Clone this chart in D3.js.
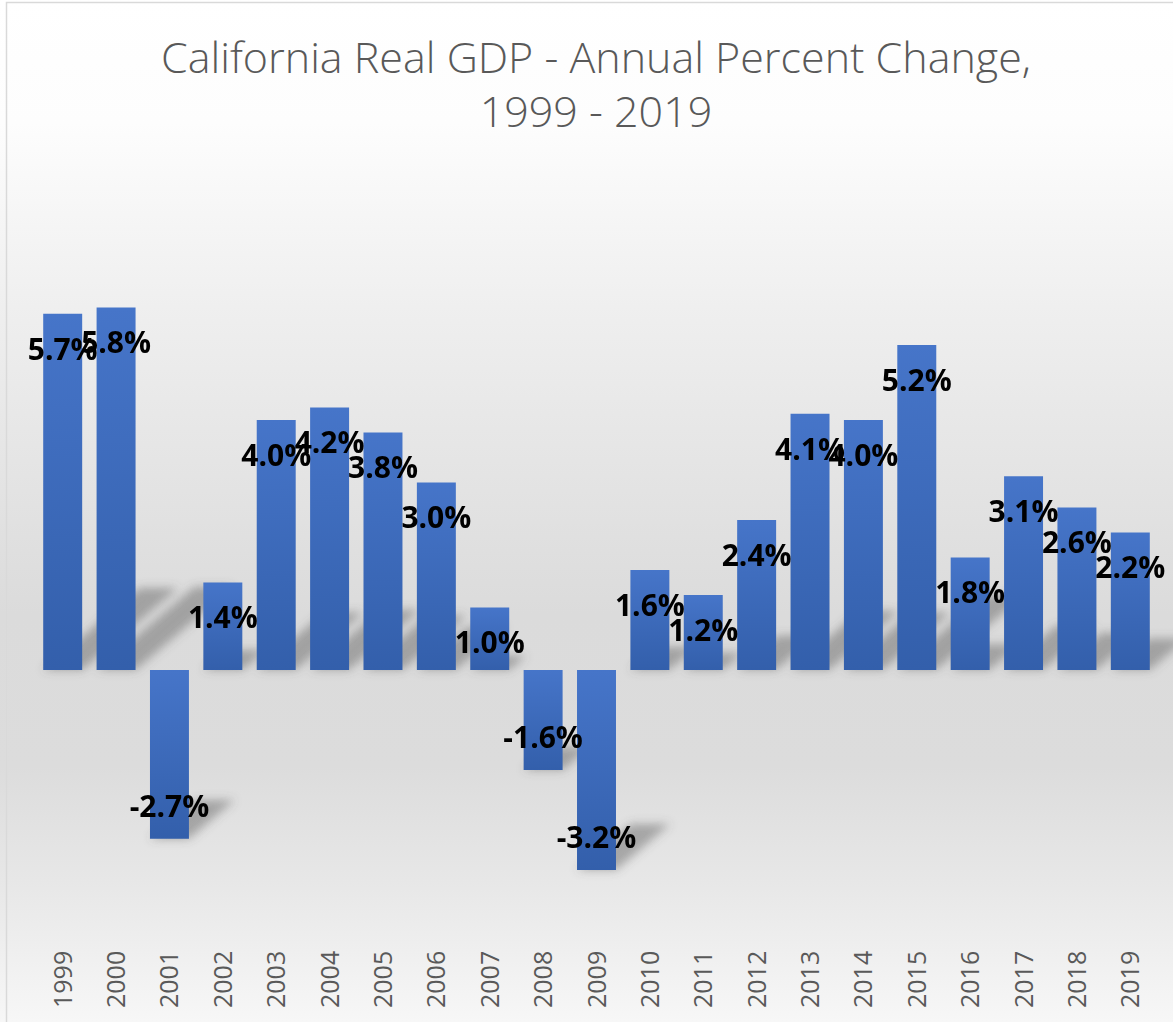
<!DOCTYPE html>
<html>
<head>
<meta charset="utf-8">
<script src="https://cdn.jsdelivr.net/npm/d3@7"></script>
<style>
  html, body { margin: 0; padding: 0; background: #fff; }
  svg { display: block; }
</style>
</head>
<body>
<svg width="1173" height="1022"></svg>
<script>
//## DATA ##
const years = ['1999', '2000', '2001', '2002', '2003', '2004', '2005', '2006', '2007', '2008', '2009',
  '2010', '2011', '2012', '2013', '2014', '2015', '2016', '2017', '2018', '2019']
const growth = [5.7, 5.8, -2.7, 1.4, 4.0, 4.2, 3.8, 3.0, 1.0, -1.6, -3.2,
  1.6, 1.2, 2.4, 4.1, 4.0, 5.2, 1.8, 3.1, 2.6, 2.2]
const titleLines = ['California Real GDP - Annual Percent Change,', '1999 - 2019']

const data = years.map((year, i) => ({ year: year, value: growth[i] }))

//## SIZES ##
const width = 1173
const height = 1022
const svg = d3.select('svg')

//-- Scales --
const scaleX = d3.scaleBand()
  .domain(years)
  .range([36, 1157])
  .paddingInner(0.27)
  .paddingOuter(0.135)

const scaleY = d3.scaleLinear()
  .domain([-4, 6])
  .range([920, 295])

//## DEFS ##
const defs = svg.append('defs')

const bg = defs.append('linearGradient')
  .attr('id', 'bgGrad')
  .attr('x1', 0).attr('y1', 0).attr('x2', 0).attr('y2', 1)
const bgStops = [[0, '#ffffff'], [0.12, '#fdfdfd'], [0.3, '#efefef'], [0.6, '#dbdbdb'],
  [0.75, '#dcdcdc'], [0.87, '#e8e8e8'], [1, '#f7f7f7']]
bg.selectAll('stop').data(bgStops)
  .enter().append('stop')
  .attr('offset', d => d[0])
  .attr('stop-color', d => d[1])

const barGrad = defs.append('linearGradient')
  .attr('id', 'barGrad')
  .attr('x1', 0).attr('y1', 0).attr('x2', 0).attr('y2', 1)
barGrad.append('stop').attr('offset', 0).attr('stop-color', '#4675c9')
barGrad.append('stop').attr('offset', 1).attr('stop-color', '#335fab')

defs.append('filter')
  .attr('id', 'blur')
  .attr('x', '-50%').attr('y', '-50%').attr('width', '200%').attr('height', '200%')
  .append('feGaussianBlur')
  .attr('stdDeviation', 5)

//## BACKGROUND ##
svg.append('rect')
  .attr('width', width)
  .attr('height', height)
  .attr('fill', 'url(#bgGrad)')

svg.append('rect')
  .attr('x', 6.5)
  .attr('y', 2.5)
  .attr('width', width + 20)
  .attr('height', height + 20)
  .attr('fill', 'none')
  .attr('stroke', '#d9d9d9')
  .attr('stroke-width', 1.5)

//## TITLE ##
svg.append('g').selectAll('text').data(titleLines)
  .enter().append('text')
  .attr('x', 596)
  .attr('y', (d, i) => 73 + i * 54)
  .attr('text-anchor', 'middle')
  .style('font-family', '"Open Sans", sans-serif')
  .style('font-weight', 350)
  .style('font-size', '43px')
  .style('fill', '#595959')
  .text(d => d)

//## BARS ##
const barTop = d => scaleY(Math.max(0, d.value))
const barH = d => Math.abs(scaleY(d.value) - scaleY(0))

// perspective shadow, cast from the bar's lower edge up and to the right
const shadowPath = d => {
  const x = scaleX(d.year)
  const w = scaleX.bandwidth()
  const base = barTop(d) + barH(d)
  const dy = barH(d) * 0.23
  const dx = barH(d) * 0.27
  return `M${x},${base} L${x + w},${base} L${x + w + dx},${base - dy} L${x + dx},${base - dy} Z`
}

svg.append('g')
  .attr('filter', 'url(#blur)')
  .selectAll('path').data(data)
  .enter().append('path')
  .attr('d', shadowPath)
  .attr('fill', '#5a5a5a')
  .attr('opacity', 0.45)

svg.append('g').selectAll('rect').data(data)
  .enter().append('rect')
  .attr('x', d => scaleX(d.year))
  .attr('y', barTop)
  .attr('width', scaleX.bandwidth())
  .attr('height', barH)
  .attr('fill', 'url(#barGrad)')

//## LABELS ##
svg.append('g').selectAll('text').data(data)
  .enter().append('text')
  .attr('x', d => scaleX(d.year) + scaleX.bandwidth() / 2)
  .attr('y', d => d.value >= 0 ? scaleY(d.value) + 35 : scaleY(d.value) - 33)
  .attr('dy', '0.36em')
  .attr('text-anchor', 'middle')
  .style('font-family', '"Open Sans", sans-serif')
  .style('font-weight', 700)
  .style('font-size', '30px')
  .style('fill', '#000')
  .text(d => d.value.toFixed(1) + '%')

//## X AXIS ##
const xAxis = d3.axisBottom(scaleX).tickSize(0).tickPadding(0)
const xAxisGroup = svg.append('g')
  .attr('transform', 'translate(0,1008)')
  .call(xAxis)

xAxisGroup.select('.domain').remove()
xAxisGroup.selectAll('text')
  .attr('transform', 'rotate(-90)')
  .attr('x', 0)
  .attr('y', 0)
  .attr('dy', '0.36em')
  .attr('text-anchor', 'start')
  .style('font-family', '"Open Sans", sans-serif')
  .style('font-size', '25px')
  .style('fill', '#595959')
</script>
</body>
</html>
